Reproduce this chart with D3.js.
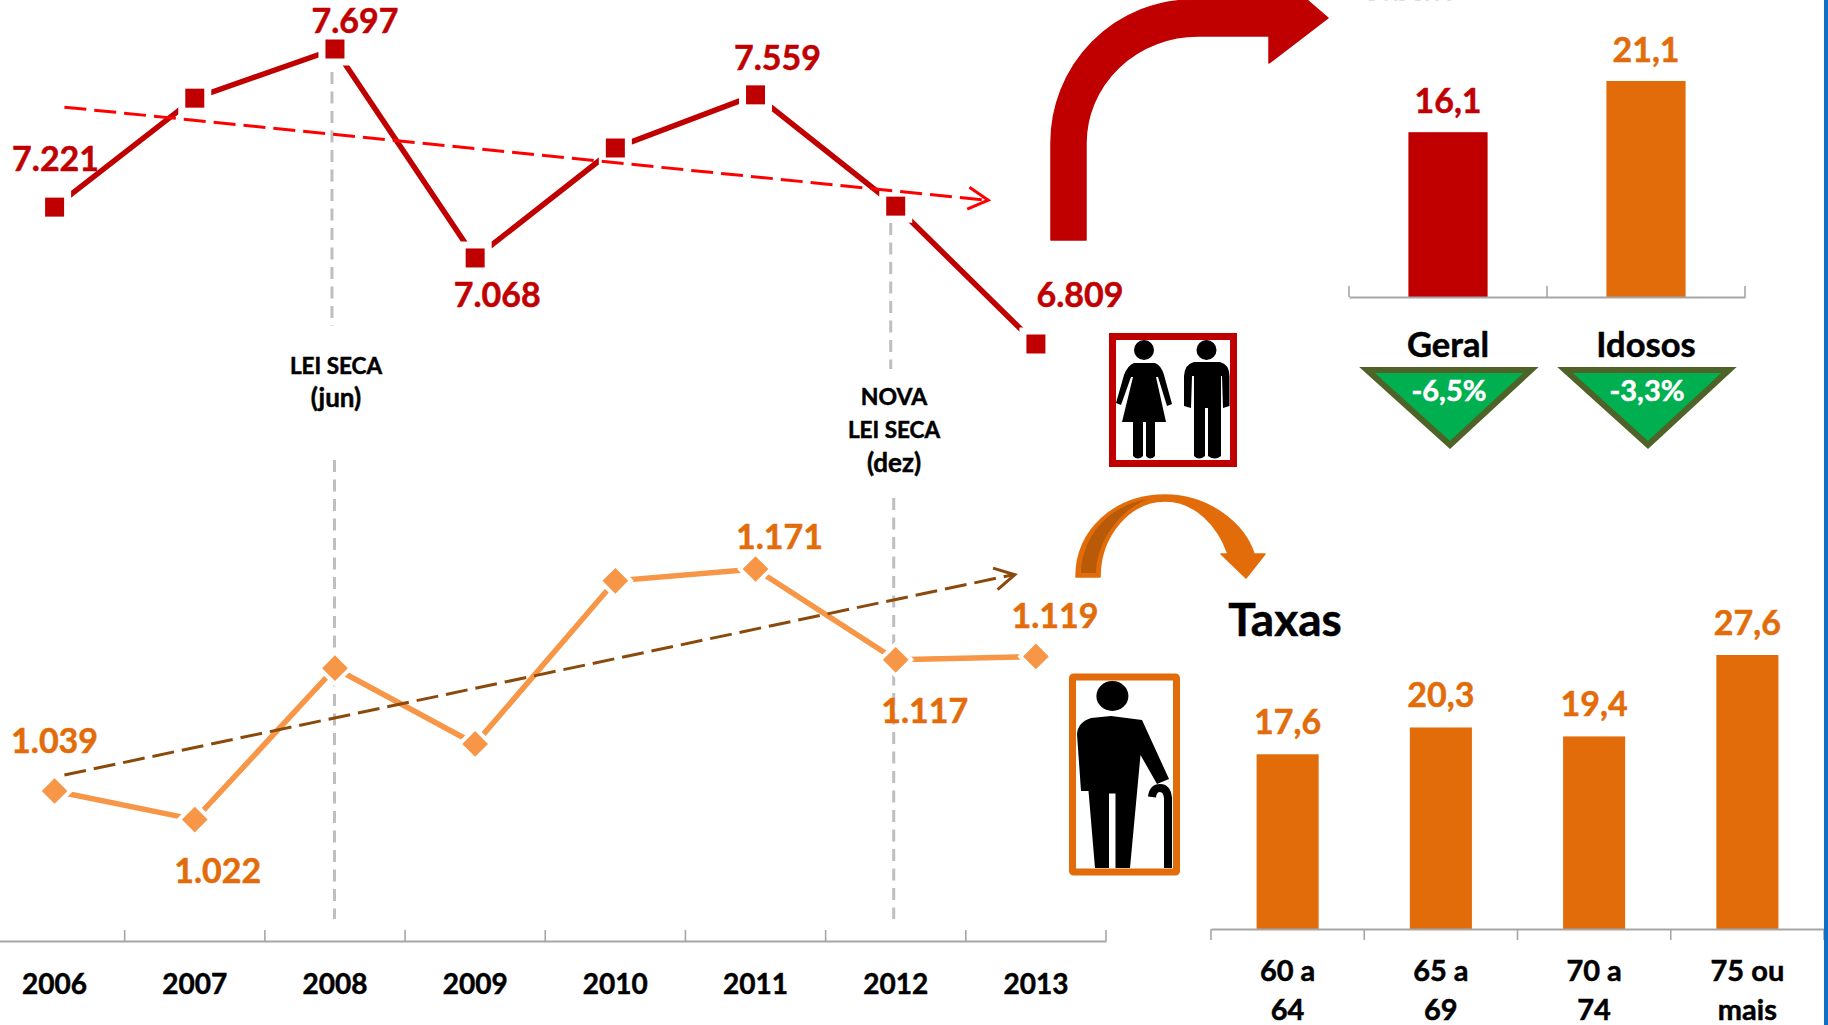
<!DOCTYPE html>
<html>
<head>
<meta charset="utf-8">
<script src="https://cdnjs.cloudflare.com/ajax/libs/d3/7.8.5/d3.min.js"></script>
<style>
  html, body { margin: 0; padding: 0; background: #fff; overflow: hidden; }
  svg { display: block; font-family: Lato, "Open Sans", sans-serif; font-weight: bold; }
</style>
</head>
<body>
<script>
// ############################################################################
// Data
// ############################################################################

const years       = [2006, 2007, 2008, 2009, 2010, 2011, 2012, 2013]
const totalDeaths = [7221, 7549, 7697, 7068, 7399, 7559, 7224, 6809]
const elderDeaths = [1039, 1022, 1112, 1067, 1164, 1171, 1117, 1119]

// Labelled points only, the others carry no number in the picture
const totalLabelled = [2006, 2008, 2009, 2011, 2013]
const elderLabelled = [2006, 2007, 2011, 2012, 2013]

// Trend lines: [year, value] at both ends
const totalTrend = [[2006.07, 7522], [2012.66, 7242]]
const elderTrend = [[2006.07, 1048.5], [2012.85, 1167.6]]

const rateGroups  = ["Geral", "Idosos"]
const rateValues  = [16.1, 21.1]
const rateChanges = ["-6,5%", "-3,3%"]

const ageGroups = ["60 a|64", "65 a|69", "70 a|74", "75 ou|mais"]
const ageRates  = [17.6, 20.3, 19.4, 27.6]

// ############################################################################
// Setup
// ############################################################################

const width = 1828, height = 1025

const RED = "#C00000", ORANGE = "#E36C0A", LIGHT = "#F79646"
const AXIS = "#A6A6A6", DASH = "#BFBFBF"

const svg = d3.select("body").append("svg")
  .attr("width", width)
  .attr("height", height)
  .attr("viewBox", `0 0 ${width} ${height}`)

const fmtThousand = d3.format(".3f")
const thousands = v => fmtThousand(v / 1000)
const comma = v => d3.format(".1f")(v).replace(".", ",")

// ==========================================================================
// Scales
// ==========================================================================

const xBand = d3.scaleBand().domain(years).range([-15.5, 1106])
const xYear = d3.scaleLinear()
  .domain([2006, 2013])
  .range([xBand(2006) + xBand.bandwidth() / 2, xBand(2013) + xBand.bandwidth() / 2])

const yTotal = d3.scaleLinear().domain([6809, 7697]).range([344, 49])
const yElder = d3.scaleLinear().domain([1022, 1171]).range([819.6, 569])

const xRate = d3.scaleBand().domain(rateGroups).range([1349, 1745])
  .paddingInner(0.6).paddingOuter(0.3)
const yRate = d3.scaleLinear().domain([0, 21.1]).range([297, 81])

const xAge = d3.scaleBand().domain(ageGroups).range([1211, 1824])
  .paddingInner(0.595).paddingOuter(0.2975)
const yAge = d3.scaleLinear().domain([0, 27.6]).range([929, 655])

// ==========================================================================
// Helpers
// ==========================================================================

// Category axis with ticks on the band edges instead of on the centres
function drawAxis(scale, y, tickDir, labelPad, fontSize)
{
  const axis = svg.append("g")
    .attr("transform", `translate(0,${y})`)
    .call(d3.axisBottom(scale).tickSize(0).tickPadding(labelPad).tickFormat(d => String(d).split("|")[0]))

  axis.select(".domain").attr("stroke", AXIS).attr("stroke-width", 2)
  axis.selectAll("text")
    .attr("fill", "#000")
    .attr("stroke", "#000")
    .attr("stroke-width", 0.5)
    .style("font-family", "Lato, sans-serif")
    .style("font-weight", "bold")
    .style("font-size", fontSize + "px")

  const edges = scale.domain().map(d => scale(d) - scale.step() * scale.paddingOuter())
  edges.push(scale.range()[1])
  axis.selectAll("line.edge").data(edges).join("line")
    .attr("class", "edge")
    .attr("x1", d => d).attr("x2", d => d)
    .attr("y1", 0).attr("y2", tickDir * 11)
    .attr("stroke", AXIS).attr("stroke-width", 1.6)
  return axis
}

function drawSeries(values, yScale, lineColor, symbolSize, rotate, haloWidth, markerColor)
{
  const points = years.map((year, i) => ({ year, value: values[i] }))
  const line = d3.line().x(d => xYear(d.year)).y(d => yScale(d.value))

  svg.append("path")
    .datum(points)
    .attr("d", line)
    .attr("fill", "none")
    .attr("stroke", lineColor)
    .attr("stroke-width", 5.5)

  svg.selectAll(null).data(points).join("path")
    .attr("d", d3.symbol().type(d3.symbolSquare).size(symbolSize))
    .attr("transform", d => `translate(${xYear(d.year)},${yScale(d.value)}) rotate(${rotate})`)
    .attr("fill", markerColor)
    .attr("stroke", "#fff")
    .attr("stroke-width", haloWidth)
    .attr("paint-order", "stroke")
}

function drawTrend(ends, yScale, color, width)
{
  const p = ends.map(d => [xYear(d[0]), yScale(d[1])])
  svg.append("line")
    .attr("x1", p[0][0]).attr("y1", p[0][1])
    .attr("x2", p[1][0] - 2).attr("y2", p[1][1])
    .attr("stroke", color).attr("stroke-width", width)
    .attr("stroke-dasharray", "22 8")

  const angle = Math.atan2(p[1][1] - p[0][1], p[1][0] - p[0][0]) * 180 / Math.PI
  svg.append("path")
    .attr("d", "M-20,-11 L0,0 L-20,11")
    .attr("transform", `translate(${p[1][0]},${p[1][1]}) rotate(${angle})`)
    .attr("fill", "none")
    .attr("stroke", color).attr("stroke-width", width)
}

function drawLabel(x, y, text, color, size)
{
  return svg.append("text")
    .attr("x", x).attr("y", y)
    .attr("dy", "0.35em")
    .attr("text-anchor", "middle")
    .attr("fill", color)
    .attr("stroke", color)
    .attr("stroke-width", 0.5)
    .style("font-size", size + "px")
    .text(text)
}

function drawVertical(x, y1, y2)
{
  svg.append("line")
    .attr("x1", x).attr("x2", x)
    .attr("y1", y1).attr("y2", y2)
    .attr("stroke", DASH).attr("stroke-width", 3)
    .attr("stroke-dasharray", "12 7.5")
}

// ############################################################################
// Left chart
// ############################################################################

// Vertical law markers
drawVertical(xYear(2008) - 3, 72, 326)
drawVertical(xYear(2008) - 0.5, 460, 919)
drawVertical(xYear(2012) - 5, 223, 369)
drawVertical(xYear(2012) - 2, 498, 919)

drawLabel(336, 366, "LEI SECA", "#000", 22.5)
drawLabel(336, 398, "(jun)", "#000", 26)
drawLabel(894, 397, "NOVA", "#000", 23)
drawLabel(894, 430, "LEI SECA", "#000", 22.5)
drawLabel(894, 463, "(dez)", "#000", 26)

drawSeries(totalDeaths, yTotal, RED, 361, 0, 14, RED)
drawSeries(elderDeaths, yElder, LIGHT, 331, 45, 8, LIGHT)

drawTrend(totalTrend, yTotal, "#FF0000", 3)
drawTrend(elderTrend, yElder, "#8A4A0B", 3)

drawAxis(xBand, 941, -1, 33, 28)

// Value labels, offset from their marker
const totalOffsets = { 2006: [1, -48], 2008: [20, -28], 2009: [22, 37], 2011: [22, -37], 2013: [44, -49] }
const elderOffsets = { 2006: [0, -50], 2007: [23, 51], 2011: [24, -32], 2012: [29, 51], 2013: [19, -40] }

totalLabelled.forEach(year => {
  const v = totalDeaths[years.indexOf(year)]
  drawLabel(xYear(year) + totalOffsets[year][0], yTotal(v) + totalOffsets[year][1], thousands(v), RED, 34)
})
elderLabelled.forEach(year => {
  const v = elderDeaths[years.indexOf(year)]
  drawLabel(xYear(year) + elderOffsets[year][0], yElder(v) + elderOffsets[year][1], thousands(v), ORANGE, 34)
})

// ############################################################################
// Top right bars
// ############################################################################

svg.selectAll(null).data(rateGroups).join("rect")
  .attr("x", d => xRate(d))
  .attr("y", (d, i) => yRate(rateValues[i]))
  .attr("width", xRate.bandwidth())
  .attr("height", (d, i) => yRate(0) - yRate(rateValues[i]))
  .attr("fill", (d, i) => i == 0 ? RED : ORANGE)

drawAxis(xRate, 297, -1, 0, 0).selectAll("text").remove()

rateGroups.forEach((group, i) => {
  const cx = xRate(group) + xRate.bandwidth() / 2
  drawLabel(cx, yRate(rateValues[i]) - 31, comma(rateValues[i]), i == 0 ? RED : ORANGE, 34)
  drawLabel(cx, 345, group, "#000", 34.5)

  // Down triangle with the change in rate
  svg.append("path")
    .attr("d", d3.line()([[cx - 81, 370], [cx + 83, 370], [cx + 2, 445]]) + "Z")
    .attr("fill", "#00B050")
    .attr("stroke", "#4F6228")
    .attr("stroke-width", 6)
  drawLabel(cx + 1, 391, rateChanges[i], "#fff", 29)
})

// Cut off title at the upper edge
drawLabel(1409, -14.5, "Taxas", "#000", 40).attr("opacity", 0.5)

// ############################################################################
// Bottom right bars
// ############################################################################

svg.selectAll(null).data(ageGroups).join("rect")
  .attr("x", d => xAge(d))
  .attr("y", (d, i) => yAge(ageRates[i]))
  .attr("width", xAge.bandwidth())
  .attr("height", (d, i) => yAge(0) - yAge(ageRates[i]))
  .attr("fill", ORANGE)

drawAxis(xAge, 929, 1, 31, 29)

ageGroups.forEach((group, i) => {
  const cx = xAge(group) + xAge.bandwidth() / 2
  drawLabel(cx, yAge(ageRates[i]) - 32, comma(ageRates[i]), ORANGE, 34)
  drawLabel(cx, 1010, group.split("|")[1], "#000", 29)
})

drawLabel(1285, 620, "Taxas", "#000", 46)

// ############################################################################
// Arrows and pictograms
// ############################################################################

svg.append("path")
  .attr("d", "M1051,240 L1051,143 A142,143 0 0 1 1193,0 L1307,0 L1328,18 L1269,63 L1269,36 L1198,36 A112,107 0 0 0 1086,143 L1086,240 Z")
  .attr("fill", RED)
  .attr("stroke", RED)
  .attr("stroke-width", 1.5)
  .attr("stroke-linejoin", "round")

svg.append("path")
  .attr("d", "M1076,577 C1076,530 1115,495 1165,495 C1210,495 1245,525 1254,554 L1265,554 L1246,578 L1221,554 L1228,554 C1218,525 1195,501 1165,501 C1130,501 1100,535 1100,577 Z")
  .attr("fill", ORANGE)
  .attr("stroke", ORANGE)
  .attr("stroke-width", 1.5)
  .attr("stroke-linejoin", "round")

svg.append("path")
  .attr("d", "M1081,573 L1096,573 C1097,540 1120,510 1148,499 C1110,505 1082,535 1081,573 Z")
  .attr("fill", "#B85A08")

// Woman and man
svg.append("rect")
  .attr("x", 1112.5).attr("y", 336.5)
  .attr("width", 121).attr("height", 127)
  .attr("fill", "#fff")
  .attr("stroke", RED).attr("stroke-width", 7)

const person = svg.append("g").attr("fill", "#000")
person.append("ellipse").attr("cx", 1144).attr("cy", 350).attr("rx", 10).attr("ry", 10)
person.append("ellipse").attr("cx", 1206.5).attr("cy", 350).attr("rx", 10).attr("ry", 10)
person.append("path").attr("d",
  "M1134,363 L1155,363 Q1161,365 1164,375 L1172,404 L1167,406 L1158,377 L1156,377 L1166,422 L1155,422 L1155,456 Q1150,461 1146,456 L1146,422 L1143,422 L1143,456 Q1138,461 1133,456 L1133,422 L1122,422 L1133,377 L1131,377 L1121,405 L1116,403 L1124,375 Q1128,365 1134,363 Z")
person.append("path").attr("d",
  "M1194,362 L1220,362 Q1229,364 1229.5,376 L1229.5,406 L1223,408 L1222,376 L1221,376 L1221,456 Q1215,461 1208,456 L1208,408 L1205,408 L1205,456 Q1199,461 1194,456 L1194,376 L1192,376 L1191,408 L1184,406 L1184,376 Q1185,364 1194,362 Z")

// Old man with cane
svg.append("rect")
  .attr("x", 1072.5).attr("y", 677)
  .attr("width", 104).attr("height", 195)
  .attr("fill", "#fff")
  .attr("stroke", ORANGE).attr("stroke-width", 7)
  .attr("rx", 1)

const elder = svg.append("g").attr("fill", "#000")
elder.append("ellipse").attr("cx", 1112.4).attr("cy", 696).attr("rx", 16).attr("ry", 15)
elder.append("path").attr("d",
  "M1077,734 Q1078,722 1091,718 L1111,716 L1142,720 L1169,779 L1157,784 L1140.5,755 L1130,868 L1115.5,868 L1115.5,793.5 L1109,793.5 L1109,868 L1095,868 L1088.5,791 L1081,791 Z")
elder.append("path")
  .attr("d", "M1168,868 L1168,798 Q1167,788 1160,788 Q1153,788 1152,797")
  .attr("fill", "none")
  .attr("stroke", "#000")
  .attr("stroke-width", 8)

// Blue edge of the page
svg.append("rect")
  .attr("x", 1824).attr("y", 0)
  .attr("width", 4).attr("height", height)
  .attr("fill", "#0F6FC6")
</script>
</body>
</html>
